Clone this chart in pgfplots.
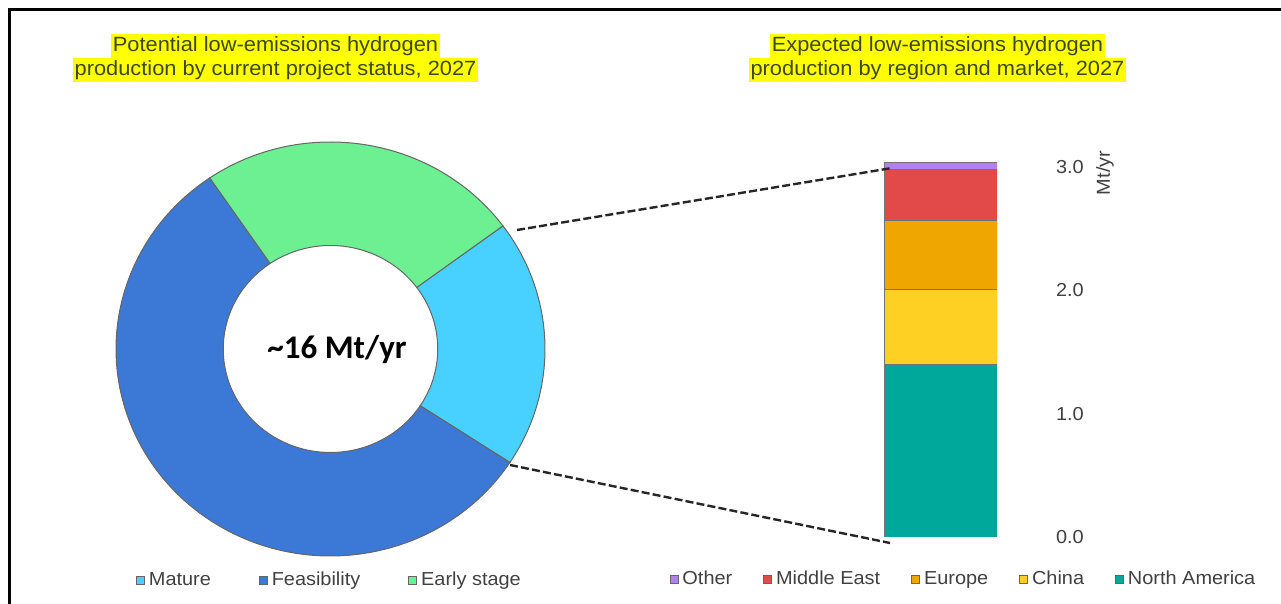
\documentclass[border=0pt]{standalone}
\usepackage{fontspec}
\setmainfont{Liberation Sans}[FakeStretch=1.06]
\newfontfamily\calibrifont{Carlito}
\usepackage{pgfplots}
\usepackage{pgfplotstable}
\pgfplotsset{compat=1.18}

\definecolor{cMature}{RGB}{72,208,255}
\definecolor{cFeas}{RGB}{60,120,214}
\definecolor{cEarly}{RGB}{108,240,146}
\definecolor{cOther}{RGB}{178,128,240}
\definecolor{cME}{RGB}{226,74,74}
\definecolor{cEurope}{RGB}{240,166,0}
\definecolor{cChina}{RGB}{253,208,35}
\definecolor{cNA}{RGB}{0,168,156}
\definecolor{hl}{RGB}{255,255,0}
\definecolor{ttl}{RGB}{62,72,32}
\definecolor{txt}{RGB}{64,64,64}

% production by project status, Mt/yr
\pgfplotstableread{
status value
Mature 3.1
Feasibility 9.0
Early 3.9
}\statustbl

% small square legend marker
\pgfplotsset{sqleg/.style={legend image code/.code={\draw[##1,line width=0.4pt] (0pt,-2pt) rectangle (4pt,2pt);}}}

% ring sector between radius 0.5 and 1 (axis units), angles #2 -> #3
\newcommand\ringsector[3]{%
  \filldraw[fill=#1, draw=black!60, line width=0.5pt]
    (axis cs:{cos(#2)},{sin(#2)})
    arc[start angle=#2, end angle=#3, x radius=107.25pt, y radius=103.5pt]
    -- (axis cs:{0.5*cos(#3)},{0.5*sin(#3)})
    arc[start angle=#3, end angle=#2, x radius=53.625pt, y radius=51.75pt]
    -- cycle;}

\newcommand\ttlfont{\fontsize{10.3}{12}\selectfont}
\newcommand\legfont{\fontsize{9.4}{11}\selectfont}

\begin{document}
\begin{tikzpicture}[x=0.5pt,y=0.5pt]
\path[use as bounding box] (0,0) rectangle (1281,604);
\draw[line width=1.35pt] (9.7,0) -- (9.7,594.3) -- (1281,594.3);

% cumulative angles of the donut slices (clockwise)
\pgfplotstablegetelem{0}{value}\of\statustbl \let\vA\pgfplotsretval
\pgfplotstablegetelem{1}{value}\of\statustbl \let\vB\pgfplotsretval
\pgfplotstablegetelem{2}{value}\of\statustbl \let\vC\pgfplotsretval
\pgfmathsetmacro\tot{\vA+\vB+\vC}
\pgfmathsetmacro\aO{36.5}
\pgfmathsetmacro\aA{\aO-360*\vA/\tot}
\pgfmathsetmacro\aB{\aA-360*\vB/\tot}
\pgfmathsetmacro\aC{\aB-360*\vC/\tot}

% titles
\begin{scope}[every node/.style={fill=hl, text=ttl, font=\ttlfont, anchor=base,
    inner xsep=1pt, inner ysep=0.6pt, text height=8.2pt, text depth=2.4pt}]
\node at (275.5,552) {Potential low-emissions hydrogen};
\node at (275.5,528) {production by current project status, 2027};
\node at (937.5,552) {Expected low-emissions hydrogen};
\node at (937.5,528) {production by region and market, 2027};
\end{scope}

% donut
\begin{axis}[at={(58pt,24pt)}, anchor=south west, scale only axis,
  width=214.5pt, height=207pt, xmin=-1, xmax=1, ymin=-1, ymax=1,
  hide axis, clip=false,
  legend columns=3, legend cell align=left,
  legend style={at={(0.5,0)}, anchor=center, yshift=-12pt, draw=none, fill=none,
    font=\legfont, text=txt, inner sep=0pt,
    /tikz/every even column/.append style={column sep=22pt, text height=7pt, text depth=2pt}},
]
\addlegendimage{sqleg, fill=cMature, draw=black!60}
\addlegendentry{Mature}
\addlegendimage{sqleg, fill=cFeas, draw=black!60}
\addlegendentry{Feasibility}
\addlegendimage{sqleg, fill=cEarly, draw=black!60}
\addlegendentry{Early stage}
\ringsector{cMature}{\aO}{\aA}
\ringsector{cFeas}{\aA}{\aB}
\ringsector{cEarly}{\aB}{\aC}
\end{axis}
\node[font=\calibrifont\bfseries\fontsize{16.5}{20}\selectfont] at (337,254) {\textasciitilde16 Mt/yr};

% stacked bar by region
\begin{axis}[at={(442pt,33.5pt)}, anchor=south west, scale only axis,
  width=56.5pt, height=191.17pt, xmin=-0.5, xmax=0.5, ymin=0, ymax=3.1,
  ybar stacked, bar width=56.5pt,
  axis line style={draw=none}, major tick length=0pt,
  xtick=\empty, ytick={0,1,2,3}, yticklabel pos=right,
  /pgf/number format/assume math mode=true,
  yticklabel style={/pgf/number format/.cd, fixed, fixed zerofill, precision=1,
    /tikz/.cd, font=\legfont, text=txt, xshift=26pt},
  legend columns=5, legend cell align=left,
  legend style={at={(0.5,0)}, anchor=center, xshift=12pt, yshift=-21pt,
    draw=none, fill=none, font=\legfont, text=txt, inner sep=0pt,
    /tikz/every even column/.append style={column sep=13.5pt, text height=7pt, text depth=2pt}},
]
\addlegendimage{sqleg, fill=cOther, draw=black!60}
\addlegendimage{sqleg, fill=cME, draw=black!60}
\addlegendimage{sqleg, fill=cEurope, draw=black!60}
\addlegendimage{sqleg, fill=cChina, draw=black!60}
\addlegendimage{sqleg, fill=cNA, draw=black!60}
\addplot[fill=cNA, draw=black!55] coordinates {(0,1.40)};
\addplot[fill=cChina, draw=black!55] coordinates {(0,0.61)};
\addplot[fill=cEurope, draw=black!55] coordinates {(0,0.56)};
\addplot[fill=cME, draw=black!55] coordinates {(0,0.41)};
\addplot[fill=cOther, draw=black!55] coordinates {(0,0.06)};
\legend{Other, Middle East, Europe, China, North America}
\end{axis}
\node[rotate=90, font=\legfont, text=txt] at (1105,431) {Mt/yr};

% connector lines
\draw[dash pattern=on 4pt off 1.6pt, line width=1.2pt, black!85] (517,374) -- (892,436);
\draw[dash pattern=on 4pt off 1.6pt, line width=1.2pt, black!85] (510,139) -- (890,61);
\end{tikzpicture}
\end{document}
